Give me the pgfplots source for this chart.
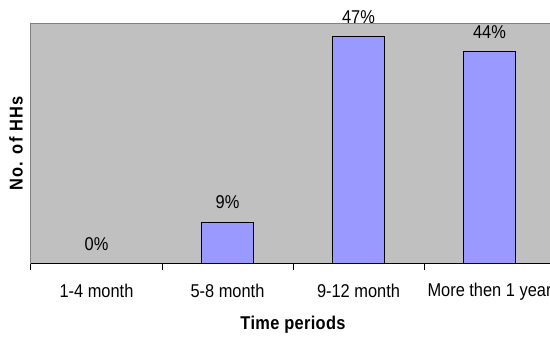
\documentclass[border=0pt]{standalone}
\usepackage{pgfplots}
\pgfplotsset{compat=1.18}
\usepackage{fontspec}
\setmainfont{Liberation Sans}
\definecolor{bg}{HTML}{C0C0C0}
\definecolor{barc}{HTML}{9999FF}
\definecolor{framec}{HTML}{808080}
\newcommand{\tall}[1]{\scalebox{1}[1.13]{#1}}
\begin{document}
\begin{tikzpicture}[font=\fontsize{12.3}{14.4}\selectfont]
\clip (-23.25pt,-55.1pt) rectangle (389.25pt,197.9pt);
\begin{axis}[
  at={(0pt,0pt)}, anchor=south west,
  scale only axis, width=393pt, height=180.4pt,
  xmin=-0.5, xmax=3.5, ymin=0, ymax=50,
  axis lines=left,
  axis line style={-},
  x axis line style={black, -, line width=0.75pt},
  y axis line style={framec, -, line width=0.75pt},
  axis background/.style={fill=bg, draw=framec, line width=0.75pt},
  ytick=\empty,
  xtick={0,1,2,3},
  xticklabels={\tall{1-4 month}, \tall{5-8 month}, \tall{9-12 month}, \tall{More then 1 year}},
  major tick length=0pt,
  minor xtick={-0.5,0.5,1.5,2.5,3.5},
  minor tick length=4.5pt,
  tick align=outside,
  minor tick style={black, line width=0.75pt},
  xticklabel style={anchor=center, yshift=-20.6pt},
  /pgf/number format/assume math mode=true,
  ybar, bar width=0.4,
  nodes near coords={\tall{\pgfplotspointmeta}},
  point meta=explicit symbolic,
  nodes near coords style={anchor=center, yshift=15pt},
  xlabel={\tall{\bfseries\addfontfeatures{LetterSpace=2}Time periods}},
  ylabel={\tall{\bfseries\addfontfeatures{LetterSpace=7}No. of HHs}},
  xlabel style={at={(axis description cs:0.5,-0.255)}, anchor=center},
  ylabel style={at={(axis description cs:-0.0286,0.5)}, anchor=center},
]
\addplot[fill=barc, draw=black, line width=0.75pt] coordinates {
  (0,0) [0\%]
  (1,8.6) [9\%]
  (2,47.2) [47\%]
  (3,44.1) [44\%]
};
\end{axis}
\end{tikzpicture}
\end{document}
